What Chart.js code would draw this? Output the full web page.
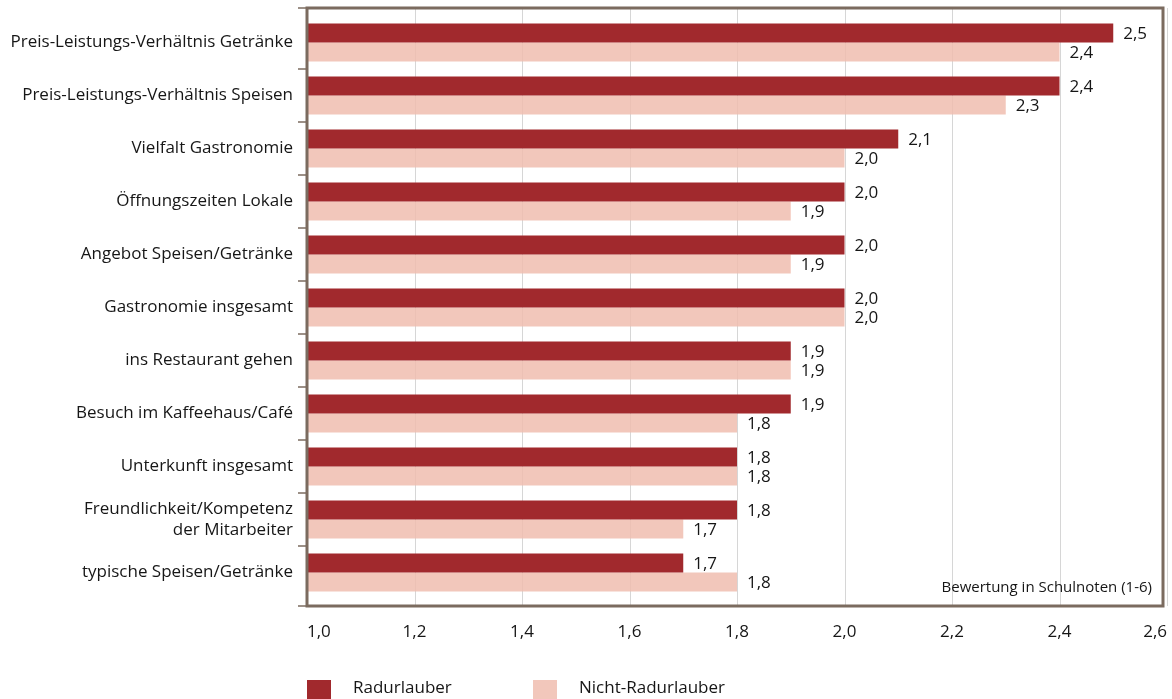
<!DOCTYPE html>
<html>
<head>
<meta charset="utf-8">
<script src="https://cdn.jsdelivr.net/npm/chart.js@4"></script>
<style>
  html, body { margin: 0; padding: 0; background: #fff; }
  #wrap { width: 1172px; height: 699px; }
</style>
</head>
<body>
<div id="wrap"><canvas id="gastroChart" width="1172" height="699"></canvas></div>
<script>
// categories and ratings (school grades 1-6)
const categories = [
  'Preis-Leistungs-Verhältnis Getränke',
  'Preis-Leistungs-Verhältnis Speisen',
  'Vielfalt Gastronomie',
  'Öffnungszeiten Lokale',
  'Angebot Speisen/Getränke',
  'Gastronomie insgesamt',
  'ins Restaurant gehen',
  'Besuch im Kaffeehaus/Café',
  'Unterkunft insgesamt',
  ['Freundlichkeit/Kompetenz', 'der Mitarbeiter'],
  'typische Speisen/Getränke'
];
const radurlauber = [2.5, 2.4, 2.1, 2.0, 2.0, 2.0, 1.9, 1.9, 1.8, 1.8, 1.7];
const nichtRadurlauber = [2.4, 2.3, 2.0, 1.9, 1.9, 2.0, 1.9, 1.8, 1.8, 1.7, 1.8];
const seriesNames = ['Radurlauber', 'Nicht-Radurlauber'];
const axisMin = 1.0;
const axisMax = 2.6;
const axisStep = 0.2;
const axisNote = 'Bewertung in Schulnoten (1-6)';

const FONT = 'Open Sans';
const frameColor = '#7b6b5f';
const textColor = '#161616';
const fmt = v => v.toFixed(1).replace('.', ',');

// gridlines behind the bars (reaching the frame), value labels after the bars
const valueLabels = {
  id: 'valueLabels',
  beforeDatasetsDraw(chart) {
    const ctx = chart.ctx;
    const a = chart.chartArea;
    const xs = chart.scales.x;
    ctx.save();
    ctx.strokeStyle = '#d6d6d6';
    ctx.lineWidth = 1;
    xs.ticks.forEach(t => {
      const px = Math.round(xs.getPixelForValue(t.value)) + 0.5;
      ctx.beginPath();
      ctx.moveTo(px, a.top - 8);
      ctx.lineTo(px, a.bottom + 7);
      ctx.stroke();
    });
    ctx.restore();
  },
  afterDatasetsDraw(chart) {
    const ctx = chart.ctx;
    ctx.save();
    ctx.font = '17px "' + FONT + '"';
    ctx.fillStyle = textColor;
    ctx.textAlign = 'left';
    ctx.textBaseline = 'middle';
    chart.data.datasets.forEach((ds, i) => {
      chart.getDatasetMeta(i).data.forEach((bar, j) => {
        ctx.fillText(fmt(ds.data[j]), bar.x + 10, bar.y + 1);
      });
    });
    ctx.restore();
  }
};

// brown frame, category ticks, axis note and legend
const frameAndLegend = {
  id: 'frameAndLegend',
  afterDraw(chart) {
    const ctx = chart.ctx;
    const a = chart.chartArea;
    const ys = chart.scales.y;
    const top = a.top - 8;
    const bottom = a.bottom + 7;
    ctx.save();
    ctx.strokeStyle = frameColor;
    ctx.lineWidth = 3;
    ctx.strokeRect(a.left, top, a.right - a.left - 4, bottom - top);

    // small ticks left of the frame at category boundaries
    const band = ys.getPixelForValue(1) - ys.getPixelForValue(0);
    const marks = [top, bottom];
    for (let i = 1; i < categories.length; i++) {
      marks.push(ys.getPixelForValue(i) - band / 2);
    }
    ctx.lineWidth = 1.5;
    marks.forEach(m => {
      ctx.beginPath();
      ctx.moveTo(a.left - 9, Math.round(m));
      ctx.lineTo(a.left, Math.round(m));
      ctx.stroke();
    });

    ctx.font = '15px "' + FONT + '"';
    ctx.fillStyle = textColor;
    ctx.textAlign = 'right';
    ctx.textBaseline = 'middle';
    ctx.fillText(axisNote, a.right - 15, bottom - 18);

    const ly = 689;
    const offsets = [0, 226];
    ctx.font = '17px "' + FONT + '"';
    ctx.textAlign = 'left';
    chart.data.datasets.forEach((ds, i) => {
      const x = a.left + offsets[i];
      ctx.fillStyle = ds.legendColor;
      ctx.fillRect(x, ly - 9, 24, 19);
      ctx.fillStyle = textColor;
      ctx.fillText(ds.label, x + 46, ly - 1);
    });
    ctx.restore();
  }
};

new Chart(document.getElementById('gastroChart'), {
  type: 'bar',
  data: {
    labels: categories,
    datasets: [
      { label: seriesNames[0], data: radurlauber, backgroundColor: '#a1292d', legendColor: '#a1292d' },
      { label: seriesNames[1], data: nichtRadurlauber, backgroundColor: 'rgba(240,189,175,0.85)', legendColor: '#f2c7bb' }
    ]
  },
  options: {
    indexAxis: 'y',
    responsive: false,
    animation: false,
    layout: { padding: { top: 16, right: 5, bottom: 54, left: 0 } },
    datasets: { bar: { categoryPercentage: 0.717, barPercentage: 1.0 } },
    plugins: { legend: { display: false }, tooltip: { enabled: false } },
    scales: {
      x: {
        min: axisMin,
        max: axisMax,
        border: { display: false },
        grid: { display: false },
        ticks: {
          stepSize: axisStep,
          align: 'inner',
          padding: 15,
          color: textColor,
          font: { family: FONT, size: 17 },
          callback: v => fmt(v)
        },
        afterFit(scale) {
          scale.height = 46;
          scale.paddingLeft = 0;
          scale.paddingRight = 0;
        }
      },
      y: {
        border: { display: false },
        grid: { display: false },
        ticks: {
          padding: 6,
          color: textColor,
          font: { family: FONT, size: 17, lineHeight: 1.2 }
        },
        afterFit(scale) {
          scale.width = 307;
          scale.paddingTop = 0;
          scale.paddingBottom = 0;
        }
      }
    }
  },
  plugins: [valueLabels, frameAndLegend]
});
</script>
</body>
</html>
